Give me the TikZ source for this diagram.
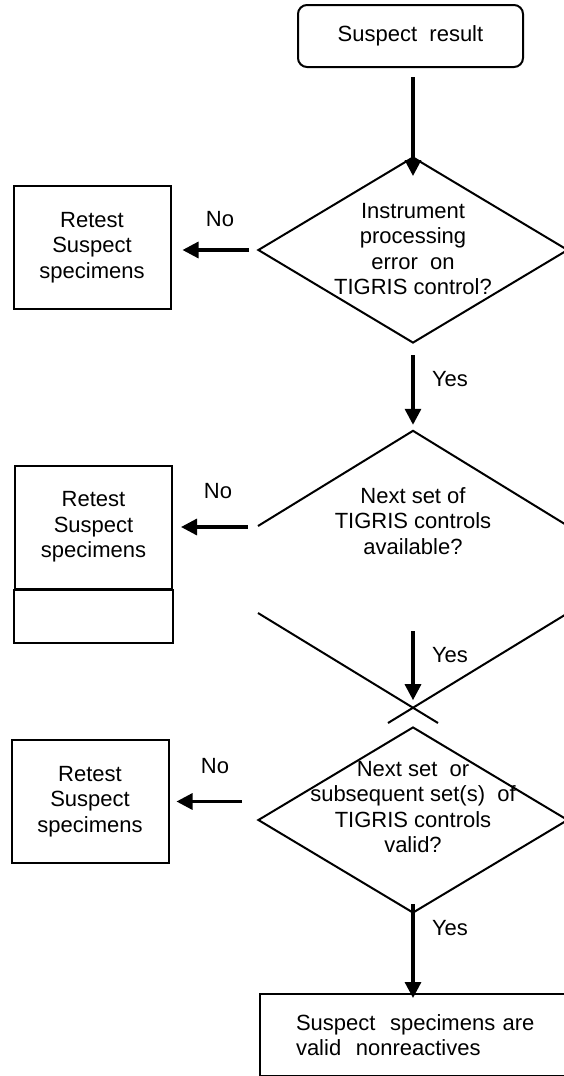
\documentclass[tikz,border=0pt]{standalone}
\usepackage{fontspec}
\setmainfont{Liberation Sans}
\usepackage{xcolor}
\usepackage{tikz}
\usetikzlibrary{shapes.geometric}
\usetikzlibrary{arrows.meta}
\newcommand{\flowfont}{\fontsize{22}{25.5}\selectfont}

\begin{document}
\begin{tikzpicture}[x=1pt,y=-1pt,
		box/.style={draw,line width=2pt,align=center,font=\flowfont,minimum width=157pt,minimum height=123pt},
		decision/.style={draw,diamond,line width=2pt,minimum width=310pt,minimum height=186pt,inner sep=0pt},
		txt/.style={align=center,inner sep=0pt,font=\flowfont},
		flow/.style={line width=3.2pt,-{Triangle[length=16pt,width=16pt]}}]
		\useasboundingbox (0,0) rectangle (564,1076);
		\clip (0,0) rectangle (564,1076);
		% start
		\node[box,rounded corners=9pt,minimum width=225pt,minimum height=62pt] (start) at (410.5,36) {Suspect~ result};
		% first question
		\node[decision] (d1) at (413,250) {};
		\node[txt] (d1t) at (413,249) {Instrument\\processing\\error~ on\\TIGRIS control?};
		\node[box] (r1) at (92,247.5) {Retest\\Suspect\\specimens};
		\node[txt] (n1) at (220,219) {No};
		\node[txt] (y1) at (450,379) {Yes};
		% second question
		\node[inner sep=0pt,minimum width=310pt,minimum height=277pt] (d2) at (413,569.5) {};
		\draw[line width=2pt] (258,526) -- (d2.north) -- (568,526);
		\draw[line width=2pt] (258,613) -- (438,723);
		\draw[line width=2pt] (568,613) -- (388,723);
		\node[txt] (d2t) at (413,521) {Next set of\\TIGRIS controls\\available?};
		\node[box] (r2) at (93.5,527) {Retest\\Suspect\\specimens};
		\draw[line width=2pt] (r2.south west) rectangle (r2.south east |- 0,643);
		\node[txt] (n2) at (218,491) {No};
		\node[txt] (y2) at (450,655) {Yes};
		% third question
		\node[decision] (d3) at (413,820) {};
		\node[txt] (d3t) at (413,807) {Next set~ or\\subsequent set(s)~ of\\TIGRIS controls\\valid?};
		\node[box] (r3) at (90,801.5) {Retest\\Suspect\\specimens};
		\node[txt] (n3) at (215,766) {No};
		\node[txt] (y3) at (450,928) {Yes};
		% end
		\node[draw,line width=2pt,anchor=north west,minimum height=82pt,text width=290pt,align=left,inner xsep=36pt,font=\flowfont] (res) at (259,993) {Suspect~ specimens are\\valid~ nonreactives};
		% connectors
		\draw[flow,shorten <=9pt,shorten >=-20pt] (start.south -| d1.north) -- (d1.north);
		\draw[flow,shorten <=8pt,shorten >=11pt] (d1.west) -- (d1.west -| r1.east);
		\draw[flow,shorten <=11pt,shorten >=6pt] (d1) -- (d2.north);
		\draw[flow,shorten <=10pt,shorten >=8pt] (d2.west |- r2) -- (r2);
		\draw[flow,shorten >=8pt] ([yshift=77pt]d2.south) -- (d2.south);
		\draw[flow,shorten <=15pt,shorten >=7pt] (r3.east -| d3.west) -- (r3);
		\draw[flow,shorten <=-10pt,shorten >=-5pt] (d3.south) -- (d3.south |- res.north);
	\end{tikzpicture}
\end{document}
